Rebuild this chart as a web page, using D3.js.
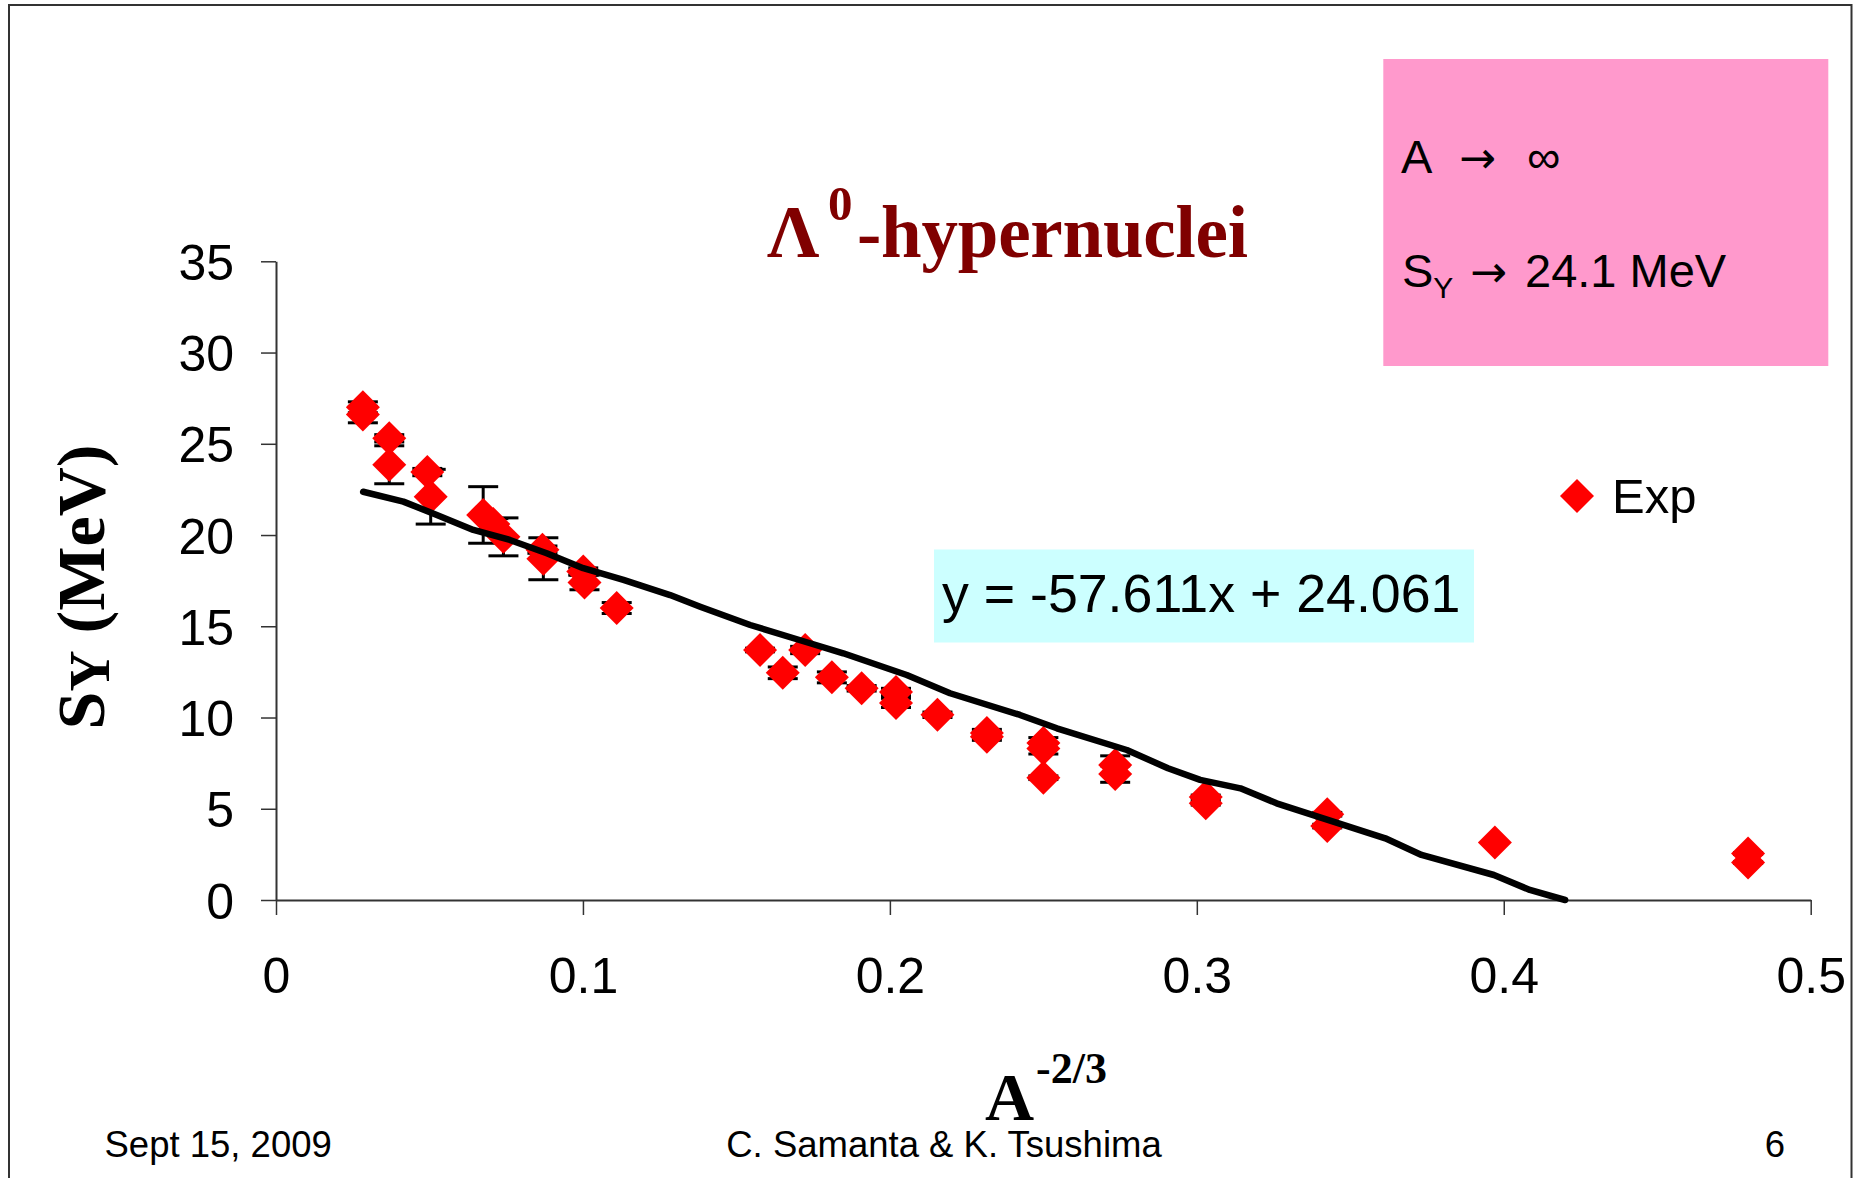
<!DOCTYPE html>
<html>
<head>
<meta charset="utf-8">
<script src="https://cdnjs.cloudflare.com/ajax/libs/d3/7.8.5/d3.min.js"></script>
<style>
  body { margin: 0; background: #fff; }
  svg { display: block; }
</style>
</head>
<body>
<script>
// experimental points (A^-2/3, S_Y in MeV, error)
var expX = [0.0283, 0.0283, 0.0369, 0.0369, 0.0493, 0.0504, 0.0675, 0.0708, 0.0741,
  0.0868, 0.0871, 0.1001, 0.1005, 0.111, 0.1577, 0.1651, 0.1724, 0.1811, 0.1908,
  0.2020, 0.2020, 0.2155, 0.2316, 0.2316, 0.2500, 0.2500, 0.2500, 0.2734, 0.2734,
  0.3029, 0.3029, 0.3425, 0.3425, 0.3971, 0.4796, 0.4796];
var expY = [27.0, 26.6, 25.3, 23.85, 23.45, 22.1, 21.1, 20.6, 19.9,
  19.2, 18.7, 18.0, 17.4, 16.0, 13.7, 12.45, 13.7, 12.2, 11.6,
  11.4, 10.8, 10.15, 9.15, 8.95, 8.6, 8.3, 6.7, 7.4, 6.9,
  5.65, 5.3, 4.7, 4.05, 3.15, 2.55, 2.05];
var expErr = [0.3, 0.45, 0.2, 1.04, 0.2, 1.5, 1.55, 0.3, 1.04,
  0.2, 1.15, 0.2, 0.4, 0.3, 0.1, 0.32, 0.2, 0.3, 0.15,
  0.2, 0.25, 0.15, 0.2, 0.2, 0.3, 0.3, 0.1, 0.5, 0.45,
  0.1, 0.1, 0.1, 0.1, 0, 0.05, 0.05];

// trend line as drawn on the slide
var fitX = [0.0284, 0.0415, 0.0524, 0.0643, 0.0762, 0.0882, 0.1001, 0.1132, 0.1284,
  0.1382, 0.1545, 0.1740, 0.1848, 0.2055, 0.2196, 0.2424, 0.2544, 0.2772, 0.2906,
  0.3011, 0.3142, 0.3260, 0.3614, 0.3732, 0.3968, 0.4085, 0.4200];
var fitY = [22.37, 21.83, 21.10, 20.28, 19.73, 19.00, 18.18, 17.54, 16.71,
  16.07, 15.07, 14.07, 13.52, 12.33, 11.33, 10.14, 9.41, 8.22, 7.22,
  6.58, 6.12, 5.30, 3.38, 2.47, 1.37, 0.55, 0.0];

var xTicks = [0, 0.1, 0.2, 0.3, 0.4, 0.5];
var xTickLabels = ["0", "0.1", "0.2", "0.3", "0.4", "0.5"];
var yTicks = [0, 5, 10, 15, 20, 25, 30, 35];

var svg_width = 1862;
var svg_height = 1178;
var sans = "'Liberation Sans', Arial, sans-serif";
var serif = "'Liberation Serif', 'Times New Roman', serif";
var arrowFont = "'DejaVu Sans', sans-serif";

var svg = d3.select("body")
  .append("svg")
  .attr("width", svg_width)
  .attr("height", svg_height);

svg.append("rect")
  .attr("width", svg_width)
  .attr("height", svg_height)
  .attr("fill", "#fff");

// slide frame
svg.append("rect")
  .attr("x", 9)
  .attr("y", 5)
  .attr("width", 1842.5)
  .attr("height", 1200)
  .attr("fill", "none")
  .attr("stroke", "#333")
  .attr("stroke-width", 2);

var xScale = d3.scaleLinear().domain([0, 0.5]).range([276, 1810.7]);
var yScale = d3.scaleLinear().domain([0, 35]).range([900, 261.3]);

var bottomAxis = d3.axisBottom(xScale)
  .tickValues(xTicks)
  .tickSize(15)
  .tickSizeOuter(0)
  .tickPadding(42)
  .tickFormat(function(d, i) { return xTickLabels[i]; });

var leftAxis = d3.axisLeft(yScale)
  .tickValues(yTicks)
  .tickSize(15)
  .tickSizeOuter(0)
  .tickPadding(27);

var xAxisG = svg.append("g")
  .attr("transform", "translate(0, 900)")
  .call(bottomAxis);

var yAxisG = svg.append("g")
  .attr("transform", "translate(276, 0)")
  .call(leftAxis);

[xAxisG, yAxisG].forEach(function(g) {
  g.select(".domain").attr("stroke", "#333").attr("stroke-width", 2);
  g.selectAll(".tick line").attr("stroke", "#333").attr("stroke-width", 1.5);
  g.selectAll(".tick text")
    .attr("fill", "#000")
    .style("font-family", sans)
    .style("font-size", "50px");
});
yAxisG.selectAll(".tick text").attr("dy", "0.36em");
xAxisG.selectAll(".tick text").attr("dy", "0.71em");

var points = expX.map(function(x, i) {
  return { x: x, y: expY[i], err: expErr[i] };
});

// error bars
var errG = svg.append("g").attr("stroke", "#000").attr("stroke-width", 3);
points.filter(function(d) { return d.err > 0; }).forEach(function(d) {
  var cx = xScale(d.x);
  var y1 = yScale(d.y + d.err);
  var y2 = yScale(d.y - d.err);
  errG.append("line").attr("x1", cx).attr("x2", cx).attr("y1", y1).attr("y2", y2);
  errG.append("line").attr("x1", cx - 15).attr("x2", cx + 15).attr("y1", y1).attr("y2", y1);
  errG.append("line").attr("x1", cx - 15).attr("x2", cx + 15).attr("y1", y2).attr("y2", y2);
});

var diamond = "M0,-17L17,0L0,17L-17,0Z";

svg.append("g")
  .selectAll("path")
  .data(points)
  .enter()
  .append("path")
  .attr("d", diamond)
  .attr("transform", function(d) {
    return "translate(" + xScale(d.x) + "," + yScale(d.y) + ")";
  })
  .attr("fill", "#ff0000");

var line = d3.line()
  .x(function(d) { return xScale(d[0]); })
  .y(function(d) { return yScale(d[1]); });

svg.append("path")
  .datum(fitX.map(function(x, i) { return [x, fitY[i]]; }))
  .attr("d", line)
  .attr("fill", "none")
  .attr("stroke", "#000")
  .attr("stroke-width", 6.5)
  .attr("stroke-linecap", "round")
  .attr("stroke-linejoin", "round");

// title
var title = svg.append("text")
  .attr("y", 257)
  .attr("fill", "#800000")
  .style("font-family", serif)
  .style("font-weight", "bold")
  .style("font-size", "73px");
title.append("tspan").attr("x", 767).text("Λ");
title.append("tspan").attr("x", 828).attr("y", 220).style("font-size", "49px").text("0");
title.append("tspan").attr("x", 857).attr("y", 257).attr("textLength", 391).text("-hypernuclei");

// y axis label
var yLabel = svg.append("text")
  .attr("transform", "translate(104, 587) rotate(-90)")
  .attr("text-anchor", "middle")
  .attr("fill", "#000")
  .style("font-family", serif)
  .style("font-weight", "bold")
  .style("font-size", "68px");
yLabel.append("tspan").text("S");
yLabel.append("tspan").attr("dy", 5).style("font-size", "57px").text("Y");
yLabel.append("tspan").attr("dy", -5).text(" (MeV)");

// x axis label
var xLabel = svg.append("text")
  .attr("fill", "#000")
  .style("font-family", serif)
  .style("font-weight", "bold");
xLabel.append("tspan").attr("x", 985).attr("y", 1120).style("font-size", "68px").text("A");
xLabel.append("tspan").attr("x", 1036).attr("y", 1083).style("font-size", "44px").text("-2/3");

// pink note box
svg.append("rect")
  .attr("x", 1383.3)
  .attr("y", 59)
  .attr("width", 445)
  .attr("height", 307)
  .attr("fill", "#ff99cc");

var aLine = svg.append("text")
  .attr("y", 173)
  .attr("fill", "#000")
  .style("font-family", sans)
  .style("font-size", "47px");
aLine.append("tspan").attr("x", 1401).text("A");
aLine.append("tspan").attr("x", 1459).style("font-family", arrowFont).style("font-size", "44px").text("→");
aLine.append("tspan").attr("x", 1527).text("∞");

var sLine = svg.append("text")
  .attr("y", 287)
  .attr("fill", "#000")
  .style("font-family", sans)
  .style("font-size", "47px");
sLine.append("tspan").attr("x", 1402).text("S");
sLine.append("tspan").attr("dy", 11).style("font-size", "30px").text("Y");
sLine.append("tspan").attr("x", 1470).attr("dy", -11).style("font-family", arrowFont).style("font-size", "44px").text("→");
sLine.append("tspan").attr("x", 1525).text("24.1 MeV");

// trendline equation box
svg.append("rect")
  .attr("x", 934)
  .attr("y", 549.5)
  .attr("width", 540)
  .attr("height", 93)
  .attr("fill", "#ccffff");

svg.append("text")
  .attr("x", 942)
  .attr("y", 612)
  .attr("fill", "#000")
  .style("font-family", sans)
  .style("font-size", "53.7px")
  .text("y = -57.611x + 24.061");

// legend
svg.append("path")
  .attr("d", diamond)
  .attr("transform", "translate(1577, 496)")
  .attr("fill", "#ff0000");

svg.append("text")
  .attr("x", 1612)
  .attr("y", 513)
  .attr("fill", "#000")
  .style("font-family", sans)
  .style("font-size", "49px")
  .text("Exp");

// footer
var footer = svg.append("g")
  .attr("fill", "#000")
  .style("font-family", sans)
  .style("font-size", "36.5px");
footer.append("text").attr("x", 104.5).attr("y", 1157).text("Sept 15, 2009");
footer.append("text").attr("x", 944).attr("y", 1157).attr("text-anchor", "middle").text("C. Samanta & K. Tsushima");
footer.append("text").attr("x", 1785).attr("y", 1157).attr("text-anchor", "end").text("6");
</script>
</body>
</html>
